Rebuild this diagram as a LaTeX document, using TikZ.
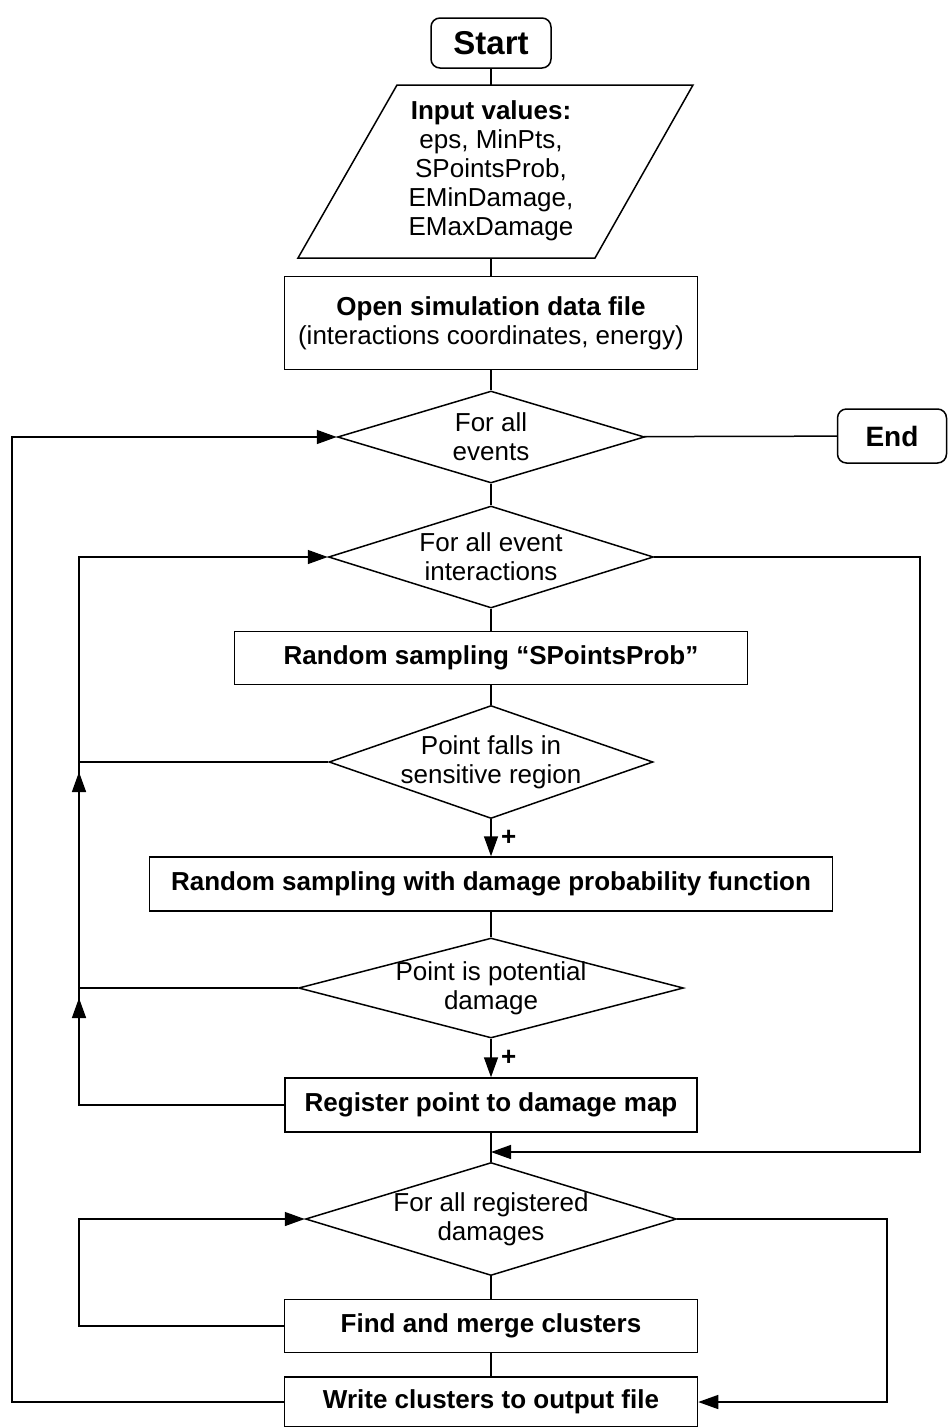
\documentclass[tikz,border=0pt]{standalone}
\usepackage{fontspec}
\setmainfont{Liberation Sans}
\usetikzlibrary{shapes.geometric,arrows.meta,calc}

\begin{document}
\begin{tikzpicture}[x=1pt,y=-1pt,line width=1.5pt,>={Triangle[length=20pt,width=14pt]},
	txt/.style={font=\fontsize{26}{29}\selectfont,align=center},
	termbox/.style={draw,rounded corners=9pt,inner sep=0pt,font=\bfseries\fontsize{33}{36}\selectfont},
	procbox/.style={draw,inner sep=0pt,align=center,font=\bfseries\fontsize{26}{29}\selectfont},
	decision/.style={draw,diamond,inner sep=-3pt,txt},
	plus/.style={right,xshift=6pt,font=\bfseries\fontsize{26}{29}\selectfont}]

	% Fix the page to the picture size
	\useasboundingbox (0,0) rectangle (949,1427);

	% Start and input values
	\node[termbox,minimum width=120pt,minimum height=50pt] (start) at (491,43) {Start};
	\coordinate (inTL) at (397,85);
	\coordinate (inTR) at (693,85);
	\coordinate (inBR) at (595,258);
	\coordinate (inBL) at (298,258);
	\draw (inTL) -- (inTR) -- (inBR) -- (inBL) -- cycle;
	\node[txt] (input) at (491,171) {\textbf{Input values:}\\eps, MinPts,\\SPointsProb,\\EMinDamage,\\EMaxDamage};
	\coordinate (intop) at (491,85);
	\coordinate (inbot) at (491,258);

	% Open the data file
	\node[procbox,minimum width=413pt,minimum height=93pt] (open) at (491,323) {Open simulation data file\\\mdseries(interactions coordinates, energy)};

	% Event loop and end
	\node[decision,minimum width=307pt,minimum height=92pt,aspect=3.3] (events) at (491,437) {For all\\events};
	\node[termbox,minimum width=109pt,minimum height=54pt,font=\bfseries\fontsize{28}{32}\selectfont] (end) at (892,436) {End};

	% Interaction loop
	\node[decision,minimum width=325pt,minimum height=102pt,aspect=3.2] (inter) at (491,557) {For all event\\interactions};
	\node[procbox,minimum width=513pt,minimum height=53pt] (sample) at (491,658) {Random sampling “SPointsProb”};
	\node[decision,minimum width=324pt,minimum height=113pt,aspect=2.87] (falls) at (491,762) {Point falls in\\sensitive region};
	\node[procbox,minimum width=683pt,minimum height=54pt] (damfun) at (491,884) {Random sampling with damage probability function};
	\node[decision,minimum width=385pt,minimum height=100pt,aspect=3.85] (potential) at (491,988) {Point is potential\\damage};
	\node[procbox,minimum width=412pt,minimum height=54pt] (register) at (491,1105) {Register point to damage map};

	% Cluster loop
	\node[decision,minimum width=371pt,minimum height=113pt,aspect=3.28] (regd) at (491,1219) {For all registered\\damages};
	\node[procbox,minimum width=413pt,minimum height=53pt] (find) at (491,1326) {Find and merge clusters};
	\node[procbox,minimum width=413pt,minimum height=50pt] (write) at (491,1402) {Write clusters to output file};

	% Corners of the loop lines
	\coordinate (outL) at (12,437);
	\coordinate (inL) at (79,557);
	\coordinate (inR) at (920,557);
	\coordinate (join) at (491,1152);
	\coordinate (regL) at (79,1219);
	\coordinate (regR) at (887,1219);

	% Main line down
	\draw (start) -- (intop);
	\draw (inbot) -- (open);
	\draw (open) -- (events);
	\draw (events) -- (end);
	\draw (events) -- (inter);
	\draw (inter) -- (sample);
	\draw (sample) -- (falls);
	\draw[->] (falls) -- (damfun) node[midway,plus] {+};
	\draw (damfun) -- (potential);
	\draw[->] (potential) -- (register) node[midway,plus] {+};
	\draw (register) -- (regd);
	\draw (regd) -- (find);
	\draw (find) -- (write);

	% Back to the interaction loop
	\draw[->] (register.west) -| (inL) -- (inter.west);
	\draw (falls.west) -- (falls.west -| inL);
	\draw (potential.west) -- (potential.west -| inL);
	\draw[->] (register.west -| inL) -- ([yshift=-10pt]potential.west -| inL);
	\draw[->] (potential.west -| inL) -- ([yshift=-10pt]falls.west -| inL);

	% Interaction loop done
	\draw[->] (inter.east) -- (inR) |- (join);

	% Cluster loop
	\draw[->] (find.west) -| (regL) -- (regd.west);
	\draw[->] (regd.east) -- (regR) |- (write.east);

	% Back to the event loop
	\draw[->] (write.west) -| (outL) -- (events.west);

\end{tikzpicture}
\end{document}
